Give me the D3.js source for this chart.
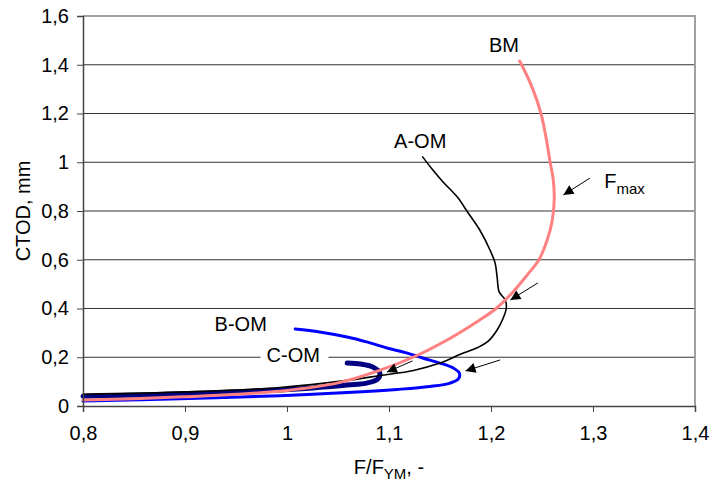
<!DOCTYPE html>
<html>
<head>
<meta charset="utf-8">
<script src="https://cdn.jsdelivr.net/npm/d3@7"></script>
<style>
  body { margin: 0; background: #fff; }
  svg { font-family: Arial, "Liberation Sans", sans-serif; }
</style>
</head>
<body>
<div id="chart"></div>
<script>
// tick values
const xTicks = [0.8, 0.9, 1.0, 1.1, 1.2, 1.3, 1.4];
const yTicks = [0, 0.2, 0.4, 0.6, 0.8, 1.0, 1.2, 1.4, 1.6];

// BM
const bmF = [0.80, 0.85, 0.90, 0.95, 1.00, 1.05, 1.09, 1.124, 1.157, 1.189, 1.205, 1.222, 1.236, 1.247, 1.255, 1.260, 1.262, 1.261, 1.258, 1.254, 1.249, 1.241, 1.230, 1.228];
const bmC = [0.025, 0.030, 0.038, 0.048, 0.064, 0.095, 0.145, 0.201, 0.271, 0.353, 0.400, 0.470, 0.540, 0.600, 0.680, 0.760, 0.850, 0.930, 1.000, 1.100, 1.200, 1.300, 1.400, 1.415];
// A-OM
const aF = [0.80, 0.90, 0.993, 1.059, 1.091, 1.124, 1.150, 1.170, 1.187, 1.197, 1.206, 1.212, 1.215, 1.214, 1.208, 1.206, 1.204, 1.199, 1.189, 1.177, 1.167, 1.153, 1.143, 1.133];
const aC = [0.048, 0.058, 0.076, 0.105, 0.125, 0.146, 0.176, 0.212, 0.240, 0.265, 0.312, 0.361, 0.402, 0.435, 0.468, 0.529, 0.587, 0.640, 0.722, 0.796, 0.857, 0.919, 0.968, 1.022];
// B-OM
const bF = [0.80, 0.895, 0.993, 1.059, 1.108, 1.140, 1.160, 1.168, 1.169, 1.163, 1.150, 1.133, 1.118, 1.098, 1.078, 1.059, 1.032, 1.008];
const bC = [0.020, 0.030, 0.042, 0.055, 0.068, 0.080, 0.094, 0.111, 0.135, 0.156, 0.176, 0.197, 0.217, 0.238, 0.263, 0.283, 0.304, 0.316];
// C-OM
const cF = [0.80, 0.901, 0.993, 1.025, 1.059, 1.078, 1.089, 1.091, 1.084, 1.072, 1.059];
const cC = [0.040, 0.050, 0.066, 0.074, 0.086, 0.094, 0.111, 0.135, 0.160, 0.172, 0.176];

// arrows [fromF, fromC, toF, toC]
const arrows = [
  [1.297, 0.935, 1.271, 0.866],
  [1.246, 0.505, 1.219, 0.435],
  [1.123, 0.185, 1.098, 0.139],
  [1.209, 0.189, 1.175, 0.144]
];

const width = 712, height = 484;
const margin = { top: 16, right: 17, bottom: 78, left: 83 };
const w = width - margin.left - margin.right,
      h = height - margin.top - margin.bottom;

const svg = d3.select("#chart").append("svg")
    .attr("width", width)
    .attr("height", height);

const g = svg.append("g")
    .attr("transform", `translate(${margin.left},${margin.top})`);

const x = d3.scaleLinear().domain([0.8, 1.4]).range([0, w]);
const y = d3.scaleLinear().domain([0, 1.6]).range([h, 0]);

const fmt = d => d3.format(".1f")(d).replace(".0", "").replace(".", ",");

// grid lines
g.selectAll(".grid")
    .data(yTicks.filter(d => d > 0 && d < 1.6))
    .enter().append("line")
    .attr("x1", 0).attr("x2", w)
    .attr("y1", d => y(d)).attr("y2", d => y(d))
    .attr("stroke", "#333").attr("stroke-width", 1);

// top and right border
g.append("path")
    .attr("d", `M0,${y(1.6)}H${w}V${h}`)
    .attr("fill", "none").attr("stroke", "#a0a0a0").attr("stroke-width", 2);

// series
const line = d3.line().x(d => x(d[0])).y(d => y(d[1])).curve(d3.curveCatmullRom);
const series = [
  { f: bF, c: bC, color: "#0000ff", sw: 3 },
  { f: cF, c: cC, color: "#000080", sw: 5 },
  { f: aF, c: aC, color: "#000000", sw: 1.6 },
  { f: bmF, c: bmC, color: "#ff8080", sw: 3 }
];
series.forEach(s => {
  g.append("path")
      .datum(s.f.map((v, i) => [v, s.c[i]]))
      .attr("d", line)
      .attr("fill", "none")
      .attr("stroke", s.color)
      .attr("stroke-width", s.sw)
      .attr("stroke-linejoin", "round")
      .attr("stroke-linecap", "round");
});

// axes
const xAxis = g.append("g")
    .attr("transform", `translate(0,${h})`)
    .call(d3.axisBottom(x).tickValues(xTicks).tickFormat(fmt).tickSizeOuter(0).tickSize(6).tickPadding(14));
const yAxis = g.append("g")
    .call(d3.axisLeft(y).tickValues(yTicks).tickFormat(fmt).tickSizeOuter(0).tickSize(6).tickPadding(8));
[xAxis, yAxis].forEach(a => {
  a.selectAll("text").style("font-size", "20px").attr("fill", "#000");
  a.select(".domain").attr("stroke", "#444").attr("stroke-width", 1.5);
  a.selectAll(".tick line").attr("stroke", "#444");
});

// arrows
svg.append("defs").append("marker")
    .attr("id", "head")
    .attr("viewBox", "0 0 10 10")
    .attr("refX", 10).attr("refY", 5)
    .attr("markerWidth", 13).attr("markerHeight", 10)
    .attr("markerUnits", "userSpaceOnUse")
    .attr("orient", "auto")
    .append("path").attr("d", "M0,0L10,5L0,10Z").attr("fill", "#000");

g.selectAll(".arrow")
    .data(arrows)
    .enter().append("line")
    .attr("x1", d => x(d[0])).attr("y1", d => y(d[1]))
    .attr("x2", d => x(d[2])).attr("y2", d => y(d[3]))
    .attr("stroke", "#000").attr("stroke-width", 1)
    .attr("marker-end", "url(#head)");

// labels
const lab = (fx, cy, t) => g.append("text")
    .attr("x", x(fx)).attr("y", y(cy))
    .style("font-size", "20px").text(t);

lab(1.198, 1.452, "BM");
lab(1.105, 1.06, "A-OM");
lab(0.929, 0.308, "B-OM");

// C-OM with white box over the grid line
g.append("rect")
    .attr("x", x(0.974)).attr("y", y(0.2) - 3)
    .attr("width", 68).attr("height", 6)
    .attr("fill", "#fff");
lab(0.980, 0.181, "C-OM");

const fm = g.append("text")
    .attr("x", x(1.311)).attr("y", y(0.895))
    .style("font-size", "20px");
fm.append("tspan").text("F");
fm.append("tspan").attr("dy", 6).style("font-size", "15px").text("max");

// axis titles
const xt = svg.append("text")
    .attr("x", margin.left + w / 2).attr("y", 474)
    .attr("text-anchor", "middle")
    .style("font-size", "20px");
xt.append("tspan").text("F/F");
xt.append("tspan").attr("dy", 5).style("font-size", "15px").text("YM");
xt.append("tspan").attr("dy", -5).text(", -");

svg.append("text")
    .attr("transform", `translate(30,${margin.top + h / 2}) rotate(-90)`)
    .attr("text-anchor", "middle")
    .style("font-size", "20px")
    .text("CTOD, mm");
</script>
</body>
</html>
